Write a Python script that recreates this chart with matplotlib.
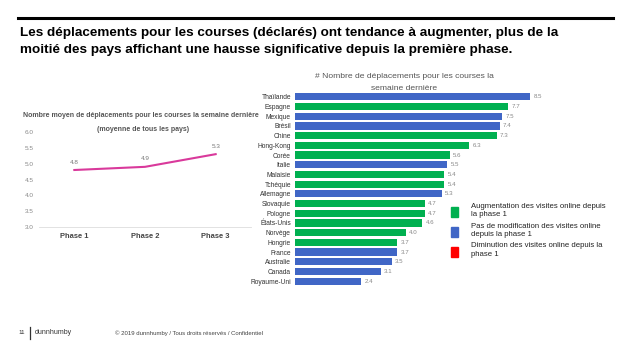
import matplotlib
matplotlib.use('Agg')
import matplotlib.pyplot as plt
from matplotlib.patches import Rectangle

plt.rcParams['font.family'] = ['Liberation Sans', 'DejaVu Sans']

# données - graphique de gauche
phases = ['Phase 1', 'Phase 2', 'Phase 3']
moyenne = [4.8, 4.9, 5.3]

# données - graphique de droite
pays = ['Thaïlande', 'Espagne', 'Mexique', 'Brésil', 'Chine', 'Hong-Kong', 'Corée',
        'Italie', 'Malaisie', 'Tchéquie', 'Allemagne', 'Slovaquie', 'Pologne',
        'États-Unis', 'Norvège', 'Hongrie', 'France', 'Australie', 'Canada', 'Royaume-Uni']
deplacements = [8.5, 7.7, 7.5, 7.4, 7.3, 6.3, 5.6, 5.5, 5.4, 5.4, 5.3, 4.7, 4.7,
                4.6, 4.0, 3.7, 3.7, 3.5, 3.1, 2.4]
statut = ['=', '+', '=', '=', '+', '+', '+', '=', '+', '+', '=', '+', '+',
          '+', '+', '+', '=', '=', '=', '=']
legende = ['Augmentation des visites online depuis\nla phase 1',
           'Pas de modification des visites online\ndepuis la phase 1',
           'Diminution des visites online depuis la\nphase 1']

VERT, BLEU, ROUGE = '#00b050', '#4066c6', '#ff0000'
couleurs = {'+': VERT, '=': BLEU, '-': ROUGE}

fig = plt.figure(figsize=(6.33, 3.56), dpi=100)
fig.patch.set_facecolor('white')

# bandeau
fig.add_artist(plt.Line2D([18/633, 613/633], [1-18/356, 1-18/356], color='black', lw=2.2))
fig.text(20/633, 1-33/356, "Les déplacements pour les courses (déclarés) ont tendance à augmenter, plus de la",
         fontsize=9.7, fontweight='bold', va='center', ha='left')
fig.text(20/633, 1-50/356, "moitié des pays affichant une hausse significative depuis la première phase.",
         fontsize=9.7, fontweight='bold', va='center', ha='left')

# graphique linéaire
ax1 = fig.add_axes([39/633, 1-227/356, 212/633, 95/356])
x = range(len(phases))
ax1.plot(x, moyenne, color='#d9399b', lw=1.5)
for xi, v in zip(x, moyenne):
    ax1.text(xi, v + 0.2, f'{v:.1f}', fontsize=4.6, color='#777777', ha='center')
ax1.set_xlim(-0.5, 2.5)
ax1.set_ylim(3.0, 6.0)
ax1.set_yticks([3.0, 3.5, 4.0, 4.5, 5.0, 5.5, 6.0])
ax1.set_yticklabels([f'{t:.1f}' for t in ax1.get_yticks()], fontsize=4.6, color='#888888')
ax1.set_xticks(list(x))
ax1.set_xticklabels(phases, fontsize=5.4, fontweight='bold', color='#444444')
ax1.tick_params(length=0, pad=4)
for s in ['top', 'right', 'left']:
    ax1.spines[s].set_visible(False)
ax1.spines['bottom'].set_color('#dddddd')
ax1.spines['bottom'].set_linewidth(0.6)
fig.text(141/633, 1-115/356, 'Nombre moyen de déplacements pour les courses la semaine dernière',
         fontsize=5.0, fontweight='bold', color='#555555', ha='center', va='center')
fig.text(143/633, 1-129/356, '(moyenne de tous les pays)',
         fontsize=5.0, fontweight='bold', color='#555555', ha='center', va='center')

# graphique à barres
ax2 = fig.add_axes([295/633, 1-286/356, 235/633, 194/356])
ypos = range(len(pays))
ax2.barh(list(ypos), deplacements, height=0.75, color=[couleurs[s] for s in statut])
for yi, v in zip(ypos, deplacements):
    ax2.text(v + 0.12, yi, f'{v:.1f}', fontsize=4.4, color='#888888', va='center', ha='left')
ax2.set_xlim(0, 8.5)
ax2.set_ylim(len(pays) - 0.5, -0.5)
ax2.set_yticks(list(ypos))
ax2.set_yticklabels(pays, fontsize=4.8, color='#333333')
ax2.set_xticks([])
ax2.tick_params(length=0, pad=3)
for s in ['top', 'right', 'left', 'bottom']:
    ax2.spines[s].set_visible(False)
fig.text(404/633, 1-76/356, '# Nombre de déplacements pour les courses la',
         fontsize=6.1, color='#555555', ha='center', va='center')
fig.text(404/633, 1-88/356, 'semaine dernière',
         fontsize=6.1, color='#555555', ha='center', va='center')

# légende
for i, (c, t) in enumerate(zip([VERT, BLEU, ROUGE], legende)):
    yc = 1 - (212 + i * 20) / 356
    fig.add_artist(Rectangle((451/633, yc - 5/356), 7/633, 10/356, color=c, transform=fig.transFigure))
    fig.text(471/633, yc + 2/356, t, fontsize=5.6, color='#222222', va='center', ha='left', linespacing=1.2)

# pied de page
fig.text(18/633, 1-333/356, '11', fontsize=4.5, color='#333333', va='center')
fig.add_artist(plt.Line2D([30/633, 30/633], [1-339/356, 1-327/356], color='#333333', lw=0.9))
fig.text(35/633, 1-333/356, 'dunnhumby', fontsize=5.0, color='#333333', va='center')
fig.text(115/633, 1-333/356, '© 2019 dunnhumby / Tous droits réservés / Confidentiel',
         fontsize=4.3, color='#444444', va='center')

fig.savefig('out.png', dpi=100, facecolor='white')
